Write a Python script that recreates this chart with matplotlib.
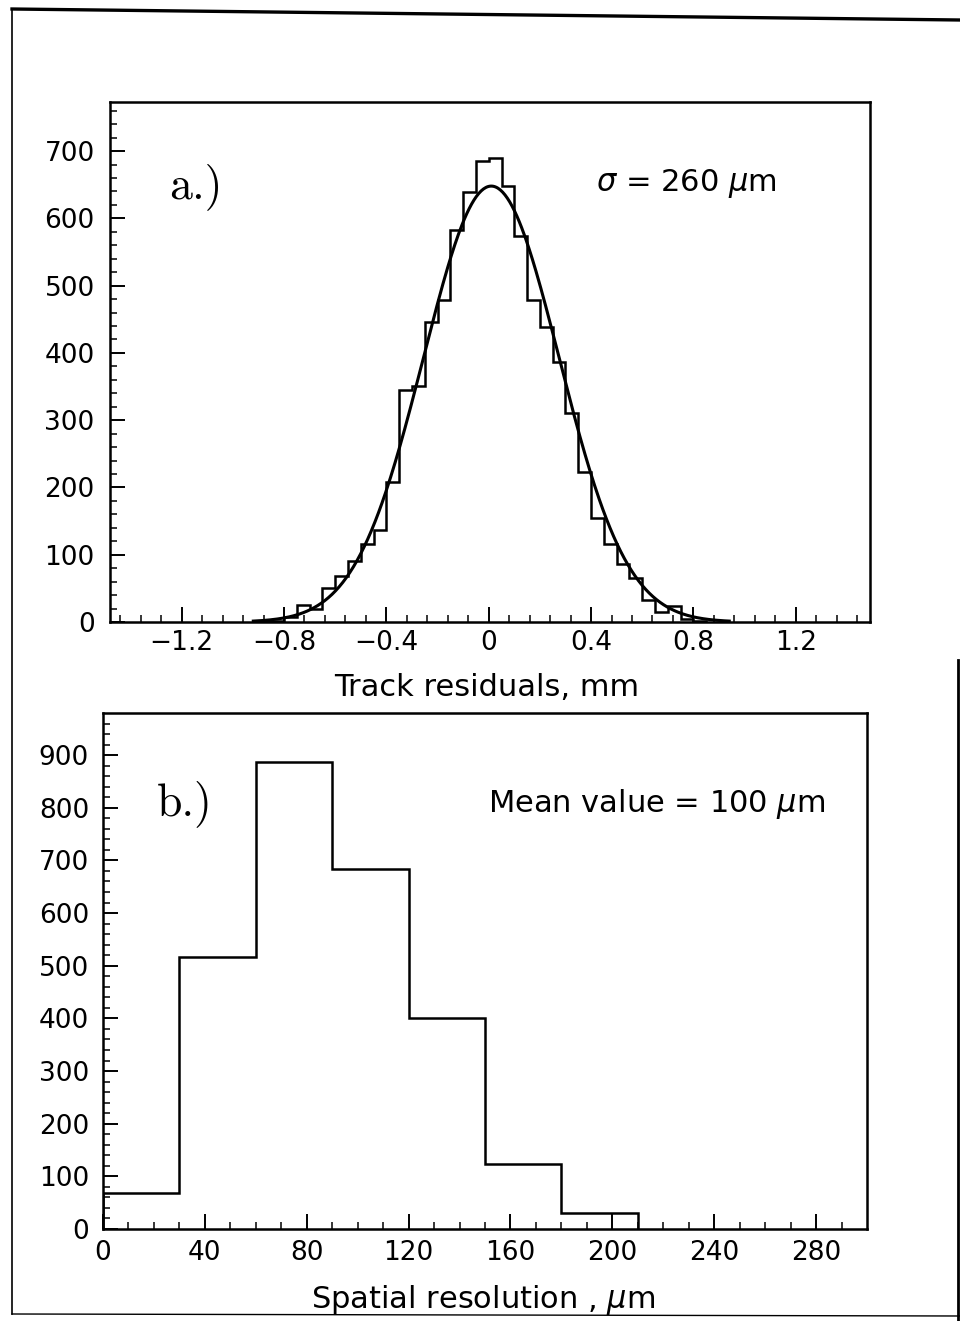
import numpy as np
import matplotlib.pyplot as plt
from matplotlib.lines import Line2D

plt.rcParams['font.family'] = ['DejaVu Sans']

# a.) track residuals histogram, bins of 0.05 mm
resid_edges = [-0.90, -0.85, -0.80, -0.75, -0.70, -0.65, -0.60, -0.55, -0.50, -0.45,
               -0.40, -0.35, -0.30, -0.25, -0.20, -0.15, -0.10, -0.05, 0.00, 0.05,
               0.10, 0.15, 0.20, 0.25, 0.30, 0.35, 0.40, 0.45, 0.50, 0.55,
               0.60, 0.65, 0.70, 0.75, 0.80, 0.85]
resid_counts = [1, 2, 7, 25, 20, 50, 68, 90, 116, 137,
                208, 345, 351, 446, 478, 583, 639, 685, 690, 648,
                574, 478, 438, 387, 311, 223, 154, 116, 86, 65,
                33, 15, 24, 5, 2]
# gaussian fit
fit_amp = 648.0
fit_mean = 0.01
fit_sigma = 0.265

# b.) spatial resolution histogram
res_edges = [0, 30, 60, 90, 120, 150, 180, 210]
res_counts = [68, 517, 886, 684, 401, 124, 31]

top_ticks = [-1.2, -0.8, -0.4, 0, 0.4, 0.8, 1.2]
top_ticklabels = ['\u22121.2', '\u22120.8', '\u22120.4', '0', '0.4', '0.8', '1.2']
bot_ticks = [0, 40, 80, 120, 160, 200, 240, 280]

W, H = 960, 1321
fig = plt.figure(figsize=(W / 100, H / 100), dpi=100)


def frac(x0, y0, x1, y1):
    return [x0 / W, 1 - y1 / H, (x1 - x0) / W, (y1 - y0) / H]


def style(ax):
    for s in ax.spines.values():
        s.set_linewidth(1.8)
    ax.tick_params(which='both', direction='in', top=False, right=False,
                   labelsize=19, colors='k')
    ax.tick_params(which='major', length=11, width=1.4)
    ax.tick_params(which='minor', length=5, width=1.1)


# ---- top panel
ax1 = fig.add_axes(frac(110, 102, 870, 622))
ax1.stairs(resid_counts, resid_edges, color='k', lw=1.8)
xs = np.linspace(-0.92, 0.94, 400)
ax1.plot(xs, fit_amp * np.exp(-0.5 * ((xs - fit_mean) / fit_sigma) ** 2), color='k', lw=2.2)
ax1.set_xlim(-1.48, 1.49)
ax1.set_ylim(0, 773)
ax1.set_xticks(top_ticks)
ax1.set_xticklabels(top_ticklabels)
ax1.set_xticks(np.arange(-1.44, 1.45, 0.08), minor=True)
ax1.set_yticks(np.arange(0, 701, 100))
ax1.set_yticks(np.arange(0, 771, 20), minor=True)
style(ax1)
ax1.tick_params(axis='y', pad=11)
ax1.tick_params(axis='x', pad=6)
ax1.text(-1.25, 648, 'a.)', fontsize=33, family='cmr10', va='center', ha='left')
ax1.text(0.42, 652, r'$\sigma$ = 260 $\mu$m', fontsize=22, va='center', ha='left')

# ---- bottom panel
ax2 = fig.add_axes(frac(103, 713, 867, 1229))
ax2.stairs(res_counts, res_edges, color='k', lw=1.8)
ax2.set_xlim(0, 300)
ax2.set_ylim(0, 980)
ax2.set_xticks(bot_ticks)
ax2.set_xticks(np.arange(0, 300, 10), minor=True)
ax2.set_yticks(np.arange(0, 901, 100))
ax2.set_yticks(np.arange(0, 980, 20), minor=True)
style(ax2)
ax2.tick_params(axis='y', pad=10)
ax2.tick_params(axis='x', pad=8)
ax2.text(21, 808, 'b.)', fontsize=33, family='cmr10', va='center', ha='left')
ax2.text(151, 808, r'Mean value = 100 $\mu$m', fontsize=22, va='center', ha='left')

# axis titles
fig.text(487 / W, 1 - 688 / H, 'Track residuals, mm', fontsize=22, ha='center', va='center')
fig.text(483 / W, 1 - 1300 / H, r'Spatial resolution , $\mu$m', fontsize=22,
         ha='center', va='center')

# scanned page border
fig.add_artist(Line2D([12 / W, 1.0], [1 - 9 / H, 1 - 20 / H], color='k', lw=2.4,
                      transform=fig.transFigure))
fig.add_artist(Line2D([12 / W, 12 / W], [1 - 9 / H, 1 - 1314 / H], color='k', lw=1.2,
                      transform=fig.transFigure))
fig.add_artist(Line2D([12 / W, 1.0], [1 - 1314 / H, 1 - 1316 / H], color='k', lw=1.0,
                      transform=fig.transFigure))
fig.add_artist(Line2D([958 / W, 958 / W], [1 - 660 / H, 0.0], color='k', lw=2.0,
                      transform=fig.transFigure))

fig.savefig('out.png', dpi=100)
